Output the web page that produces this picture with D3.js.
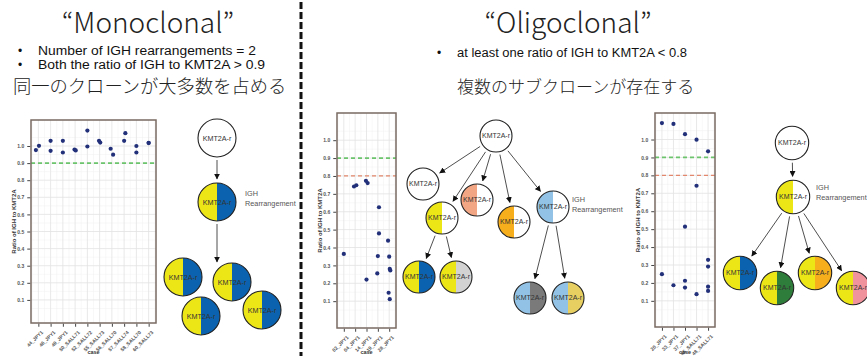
<!DOCTYPE html>
<html><head><meta charset="utf-8">
<script src="https://cdn.jsdelivr.net/npm/d3@7"></script>
<style>body{margin:0;background:#fff}svg{display:block}</style>
</head><body><svg id="c" width="867" height="356"></svg>
<script>
// ---------- DATA ----------
const mono_cats = ["44_JPY1","46_JPY1","49_JPY1","50_SALL71","52_SALL72","55_SALL73","56_SALL70","57_SALL74","58_SALL70","60_SALL73"];
const mono_idx  = [0,0,1,1,2,2,3,3,4,4,5,5,6,6,7,7,8,8,9,9];
const mono_jit  = [-0.2,0.05,0,0,0,0,-0.05,0.05,0,0,-0.05,0.05,-0.1,0.1,0,0.1,0,0,0,0];
const mono_vals = [0.976,1.001,1.03,0.972,1.03,0.962,0.979,0.974,1.09,0.997,1.03,1.02,0.984,0.949,1.03,1.075,1.0,0.962,1.019,1.017];

const oligo1_cats = ["02_JPY1","04_JPY1","14_JPY1","19_JPY1","28_JPY1"];
const oligo1_idx  = [0,1,1,2,2,2,3,3,3,3,4,4,4,4,4,4];
const oligo1_jit  = [0,-0.1,0.1,-0.05,0.1,0,0.1,0.1,0,-0.05,-0.1,0,0.05,0.1,-0.05,0.05];
const oligo1_vals = [0.364,0.741,0.748,0.773,0.760,0.221,0.625,0.479,0.352,0.255,0.438,0.349,0.280,0.272,0.147,0.111];

const oligo2_cats = ["20_JPY1","33_JPY1","37_JPY1","45_SALL71","48_SALL71"];
const oligo2_idx  = [0,0,1,1,2,2,2,2,3,3,3,4,4,4,4,4];
const oligo2_jit  = [0,0,0,0,0,0,0,0,0,0,0,0,0,0,0,0];
const oligo2_vals = [1.092,0.249,1.087,0.187,1.03,0.514,0.212,0.174,0.999,0.742,0.137,0.934,0.329,0.291,0.179,0.155];
const y_ticks = [0.1,0.2,0.3,0.4,0.5,0.6,0.7,0.8,0.9,1.0];

// tree nodes: label, left colour, right colour
const YEL="#ede617", BLU="#0b63b0", WHT="#ffffff";
const tree1_nodes = [
 {l:"KMT2A-r", a:WHT, b:WHT},{l:"KMT2A-r", a:YEL, b:BLU},
 {l:"KMT2A-r", a:YEL, b:BLU},{l:"KMT2A-r", a:YEL, b:BLU},{l:"KMT2A-r", a:YEL, b:BLU},{l:"KMT2A-r", a:YEL, b:BLU}];
const tree1_edges = [[0,1],[1,-1]];
const tree2_nodes = [
 {l:"KMT2A-r", a:WHT, b:WHT},{l:"KMT2A-r", a:WHT, b:WHT},{l:"KMT2A-r", a:YEL, b:WHT},
 {l:"KMT2A-r", a:"#f3a684", b:WHT},{l:"KMT2A-r", a:"#f6ae1c", b:WHT},{l:"KMT2A-r", a:"#92c3e6", b:WHT},
 {l:"KMT2A-r", a:YEL, b:BLU},{l:"KMT2A-r", a:YEL, b:"#d2d2d2"},
 {l:"KMT2A-r", a:"#92c3e6", b:"#7a7a7a"},{l:"KMT2A-r", a:"#92c3e6", b:"#e8cf62"}];
const tree2_edges = [[0,1],[0,2],[0,3],[0,4],[0,5],[2,6],[2,7],[5,8],[5,9]];
const tree3_nodes = [
 {l:"KMT2A-r", a:WHT, b:WHT},{l:"KMT2A-r", a:YEL, b:WHT},
 {l:"KMT2A-r", a:YEL, b:BLU},{l:"KMT2A-r", a:YEL, b:"#2e7d3a"},{l:"KMT2A-r", a:YEL, b:"#f6ae1c"},{l:"KMT2A-r", a:YEL, b:"#f0939d"}];
const tree3_edges = [[0,1],[1,2],[1,3],[1,4],[1,5]];

// ---------- LAYOUT ----------
const svg = d3.select("#c");
const FONT = "'Liberation Sans', Arial, sans-serif";
const JFONT = "'Noto Sans CJK JP', 'Noto Sans', sans-serif";

svg.append("line").attr("x1",301).attr("x2",301).attr("y1",2).attr("y2",356)
  .attr("stroke","#111").attr("stroke-width",3).attr("stroke-dasharray","7,3");

function header(cx, title){
  svg.append("text").attr("x",cx).attr("y",33).attr("text-anchor","middle")
    .attr("font-family",JFONT).attr("font-weight",300).attr("font-size",28).attr("fill","#222").text(title);
}
header(148,"\u201cMonoclonal\u201d");
header(568,"\u201cOligoclonal\u201d");
function bullet(x,y,t,fs,w){
  svg.append("text").attr("x",x).attr("y",y).attr("font-family",FONT).attr("font-size",fs).attr("fill","#111").text("\u2022");
  svg.append("text").attr("x",x+20).attr("y",y).attr("font-family",FONT).attr("font-size",fs).attr("fill","#111")
    .attr("textLength",w).attr("lengthAdjust","spacingAndGlyphs").text(t);
}
bullet(18,54.5,"Number of IGH rearrangements = 2",12,218);
bullet(18,68.5,"Both the ratio of IGH to KMT2A > 0.9",12,227);
bullet(437,57,"at least one ratio of IGH to KMT2A < 0.8",12,230);
svg.append("text").attr("x",13).attr("y",93).attr("font-family",JFONT).attr("font-weight",300).attr("font-size",18.3).attr("fill","#222").text("同一のクローンが大多数を占める");
svg.append("text").attr("x",457).attr("y",93).attr("font-family",JFONT).attr("font-weight",300).attr("font-size",17).attr("fill","#222").text("複数のサブクローンが存在する");

function panel(box, cats, idx, jit, vals, showRed){
  const g = svg.append("g");
  const n = cats.length;
  const x = d3.scaleLinear().domain([-0.6, n-1+0.6]).range([box.x0, box.x1]);
  const y = d3.scaleLinear().domain(box.yd).range([box.y1, box.y0]);
  const minorY = d3.range(0.05,1.15,0.1);
  g.selectAll(null).data(minorY).enter().append("line")
    .attr("x1",box.x0).attr("x2",box.x1).attr("y1",d=>y(d)).attr("y2",d=>y(d)).attr("stroke","#f1f1f1").attr("stroke-width",0.5);
  g.selectAll(null).data(d3.range(-0.5,n,1)).enter().append("line")
    .attr("y1",box.y0).attr("y2",box.y1).attr("x1",d=>x(d)).attr("x2",d=>x(d)).attr("stroke","#f1f1f1").attr("stroke-width",0.5);
  g.selectAll(null).data(y_ticks).enter().append("line")
    .attr("x1",box.x0).attr("x2",box.x1).attr("y1",d=>y(d)).attr("y2",d=>y(d)).attr("stroke","#e2e2e2").attr("stroke-width",0.8);
  g.selectAll(null).data(d3.range(n)).enter().append("line")
    .attr("y1",box.y0).attr("y2",box.y1).attr("x1",d=>x(d)).attr("x2",d=>x(d)).attr("stroke","#e2e2e2").attr("stroke-width",0.8);
  g.append("line").attr("x1",box.x0).attr("x2",box.x1).attr("y1",y(0.9)).attr("y2",y(0.9))
    .attr("stroke","#6cc46c").attr("stroke-width",1.8).attr("stroke-dasharray","4,3");
  if(showRed) g.append("line").attr("x1",box.x0).attr("x2",box.x1).attr("y1",y(0.8)).attr("y2",y(0.8))
    .attr("stroke","#e2876c").attr("stroke-width",1.3).attr("stroke-dasharray","4,3");
  g.selectAll(null).data(vals).enter().append("circle")
    .attr("cx",(d,i)=>x(idx[i]+jit[i])).attr("cy",d=>y(d)).attr("r",2.1).attr("fill","#22307a");
  g.append("rect").attr("x",box.x0).attr("y",box.y0).attr("width",box.x1-box.x0).attr("height",box.y1-box.y0)
    .attr("fill","none").attr("stroke","#7a6a62").attr("stroke-width",1.5);
  const ya = g.append("g").attr("transform",`translate(${box.x0-0.75},0)`)
    .call(d3.axisLeft(y).tickValues(y_ticks).tickSize(3).tickFormat(d3.format(".1f")));
  ya.select(".domain").remove();
  ya.selectAll("line").attr("stroke","#444");
  ya.selectAll("text").attr("font-family",FONT).attr("font-size",5).attr("fill","#555").attr("font-weight","bold");
  const xa = g.append("g").attr("transform",`translate(0,${box.y1+0.75})`)
    .call(d3.axisBottom(x).tickValues(d3.range(n)).tickSize(3).tickFormat(i=>cats[i]));
  xa.select(".domain").remove();
  xa.selectAll("line").attr("stroke","#444");
  xa.selectAll("text").attr("font-family",FONT).attr("font-size",5).attr("fill","#555").attr("font-weight","bold")
    .attr("text-anchor","end").attr("dy","0.3em").attr("dx","-0.2em").attr("transform","translate(0,3) rotate(-45)");
  g.append("text").attr("transform",`translate(${box.x0-15},${(box.y0+box.y1)/2}) rotate(-90)`)
    .attr("text-anchor","middle").attr("font-family",FONT).attr("font-size",6).attr("font-weight","bold").attr("fill","#333")
    .text("Ratio of IGH to KMT2A");
  g.append("text").attr("x",(box.x0+box.x1)/2).attr("y",354).attr("text-anchor","middle")
    .attr("font-family",FONT).attr("font-size",5.5).attr("font-weight","bold").attr("fill","#333").text("case");
}
panel({x0:31,x1:156,y0:120,y1:323,yd:[-0.035,1.152]}, mono_cats, mono_idx, mono_jit, mono_vals, false);
panel({x0:337,x1:396,y0:113,y1:328,yd:[-0.05,1.152]}, oligo1_cats, oligo1_idx, oligo1_jit, oligo1_vals, true);
panel({x0:655,x1:715,y0:113,y1:327,yd:[-0.046,1.148]}, oligo2_cats, oligo2_idx, oligo2_jit, oligo2_vals, true);

// ---------- TREES ----------
const defs = svg.append("defs");
defs.append("marker").attr("id","ah").attr("viewBox","0 0 10 10").attr("refX",9).attr("refY",5)
  .attr("markerWidth",6).attr("markerHeight",6).attr("markerUnits","userSpaceOnUse").attr("orient","auto")
  .append("path").attr("d","M0,0L10,5L0,10z").attr("fill","#111");

function tree(nodes, pos, edges, r, fs, extraArrow){
  const g = svg.append("g");
  const arc = d3.arc().innerRadius(0).outerRadius(r);
  edges.forEach(([a,b])=>{
    let p=pos[a], q = b>=0 ? pos[b] : extraArrow;
    const dx=q[0]-p[0], dy=q[1]-p[1], L=Math.hypot(dx,dy);
    const s = r+3, e = b>=0 ? r+4 : 0;
    g.append("line").attr("x1",p[0]+dx/L*s).attr("y1",p[1]+dy/L*s)
      .attr("x2",q[0]-dx/L*e).attr("y2",q[1]-dy/L*e)
      .attr("stroke","#222").attr("stroke-width",0.8).attr("marker-end","url(#ah)");
  });
  nodes.forEach((nd,i)=>{
    const c = g.append("g").attr("transform",`translate(${pos[i][0]},${pos[i][1]})`);
    c.append("path").attr("d",arc({startAngle:Math.PI,endAngle:2*Math.PI})).attr("fill",nd.a);
    c.append("path").attr("d",arc({startAngle:0,endAngle:Math.PI})).attr("fill",nd.b);
    c.append("circle").attr("r",r).attr("fill","none").attr("stroke","#222").attr("stroke-width",1.1);
    c.append("text").attr("text-anchor","middle").attr("dy","0.35em").attr("font-family",FONT)
      .attr("font-size",fs).attr("fill","#333").text(nd.l);
  });
  return g;
}
const tree1_pos = [[217,138],[217,202],[183,277],[232,282],[201,316],[262,310]];
tree(tree1_nodes, tree1_pos, tree1_edges, 19, 7.2, [217,262]);
const tree2_pos = [[496,136],[423,184],[442,218],[477,200],[514,222],[553,207],[419,277],[456,277],[530,298],[568,298]];
tree(tree2_nodes, tree2_pos, tree2_edges, 16, 7);
const tree3_pos = [[792,143],[793,197],[740,273],[777,288],[815,273],[853,288]];
tree(tree3_nodes, tree3_pos, tree3_edges, 16.7, 7);

function igh(x,y){
  const t = svg.append("text").attr("font-family",FONT).attr("font-size",7.3).attr("fill","#555");
  t.append("tspan").attr("x",x).attr("y",y).text("IGH");
  t.append("tspan").attr("x",x).attr("y",y+10).text("Rearrangement");
}
igh(245,196);
igh(572,202);
igh(816,190);
</script></body></html>
